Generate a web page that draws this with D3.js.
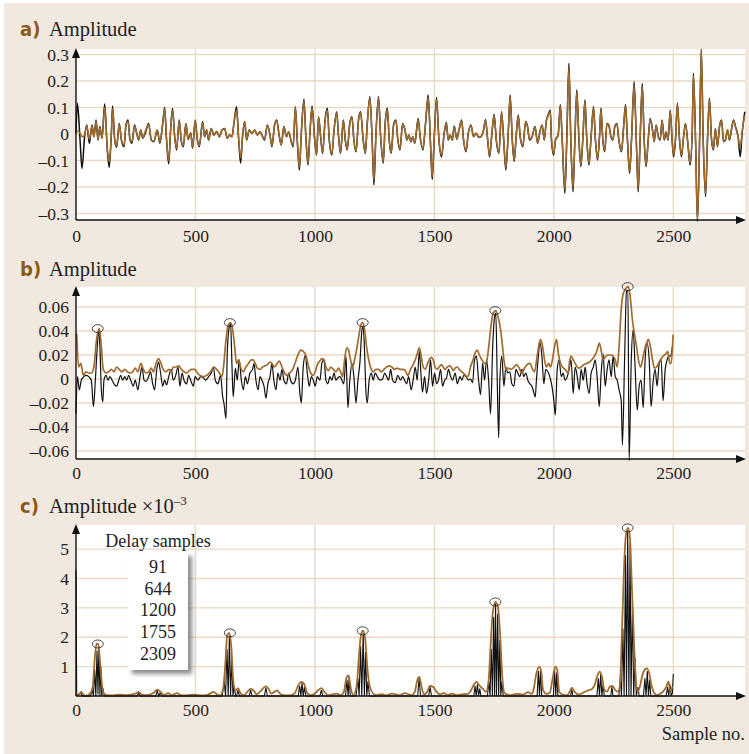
<!DOCTYPE html>
<html>
<head>
<meta charset="utf-8">
<script src="https://cdn.jsdelivr.net/npm/d3@7"></script>
<style>
  body { margin: 0; background: #fff; }
  svg { display: block; }
</style>
</head>
<body>
<script>
// sample axis ticks, shared by all three panels
const xTicks = [0, 500, 1000, 1500, 2000, 2500]
const aTicks = [-0.3, -0.2, -0.1, 0, 0.1, 0.2, 0.3]
const bTicks = [-0.06, -0.04, -0.02, 0, 0.02, 0.04, 0.06]
const cTicks = [1, 2, 3, 4, 5]

// picked peaks (legend of panel c)
const delaySamples = [91, 644, 1200, 1755, 2309]
const bPeakValues = [0.042, 0.047, 0.047, 0.057, 0.077]
const cPeakValues = [1.77, 2.15, 2.22, 3.2, 5.72]

// panel a: [sample, black signal, brown signal]
const aRows = [
  [0, 0.003, 0.003], [6, 0.116, 0.01], [17, -0.023, 0.004], [25, -0.13, -0.01], [36, -0.01, -0.005],
  [45, 0.034, 0.03], [56, -0.035, -0.02], [67, 0.034, 0.03], [75, -0.01, -0.01], [84, 0.053, 0.048],
  [92, -0.023, -0.02], [100, 0.028, 0.025], [109, -0.016, -0.015], [120, 0.113, 0.1], [131, -0.06, -0.055],
  [139, -0.126, -0.105], [148, 0.003, 0.003], [153, 0.106, 0.095], [162, -0.023, -0.02], [170, -0.05, -0.045],
  [181, 0.04, 0.036], [190, -0.023, -0.02], [201, -0.048, -0.042], [209, 0.034, 0.03], [218, 0.053, 0.047],
  [226, -0.023, -0.02], [234, -0.035, -0.03], [245, 0.034, 0.03], [254, 0.003, 0.003], [262, -0.023, -0.02],
  [271, 0.015, 0.015], [279, -0.016, -0.015], [290, 0.003, 0.01], [304, 0.04, 0.036], [315, -0.023, -0.02],
  [326, -0.029, -0.027], [340, 0.015, 0.015], [351, -0.035, -0.03], [363, 0.04, 0.04], [371, 0.1, 0.094],
  [379, -0.023, -0.02], [388, -0.113, -0.1], [396, 0.015, 0.015], [404, 0.096, 0.09], [413, -0.01, -0.01],
  [421, -0.06, -0.055], [432, 0.053, 0.05], [441, -0.029, -0.027], [449, -0.048, -0.044], [460, 0.04, 0.037],
  [469, -0.02, -0.018], [480, 0.005, 0.005], [488, -0.054, -0.05], [499, 0.053, 0.05], [508, -0.023, -0.02],
  [516, -0.048, -0.044], [530, 0.047, 0.043], [538, -0.01, -0.01], [547, 0.015, 0.015], [555, -0.023, -0.02],
  [566, 0.021, 0.02], [577, -0.004, -0.004], [589, 0.009, 0.01], [600, -0.01, -0.01], [611, 0.015, 0.015],
  [622, 0.021, 0.02], [633, -0.016, -0.015], [642, -0.004, -0.004], [653, -0.01, -0.01], [661, 0.04, 0.04],
  [672, 0.103, 0.09], [681, -0.023, -0.02], [689, -0.11, -0.09], [697, -0.01, -0.01], [706, 0.047, 0.045],
  [714, -0.023, -0.02], [725, 0.015, 0.015], [736, 0.003, 0.003], [748, 0.015, 0.015], [759, -0.004, -0.004],
  [770, 0.009, 0.009], [781, -0.01, -0.01], [789, -0.023, -0.02], [801, 0.034, 0.032], [812, -0.004, -0.004],
  [820, -0.048, -0.044], [831, 0.034, 0.032], [840, 0.053, 0.05], [851, -0.01, -0.01], [859, -0.042, -0.04],
  [870, 0.028, 0.026], [881, -0.01, -0.01], [890, 0.009, 0.009], [901, -0.029, -0.027], [909, -0.048, -0.044],
  [918, 0.103, 0.1], [926, -0.023, -0.02], [935, -0.136, -0.125], [943, 0.003, 0.003], [954, 0.131, 0.125],
  [962, -0.01, -0.01], [971, -0.117, -0.11], [979, 0.003, 0.003], [988, 0.106, 0.1], [999, -0.023, -0.02],
  [1007, -0.079, -0.075], [1015, 0.065, 0.062], [1024, -0.01, -0.01], [1032, -0.073, -0.07], [1043, 0.059, 0.056],
  [1052, 0.097, 0.09], [1060, -0.023, -0.02], [1071, -0.079, -0.075], [1080, 0.015, 0.015], [1091, 0.084, 0.08],
  [1099, -0.01, -0.01], [1107, -0.073, -0.07], [1119, 0.053, 0.05], [1127, -0.023, -0.02], [1135, -0.06, -0.057],
  [1146, 0.04, 0.038], [1155, 0.065, 0.062], [1163, -0.023, -0.02], [1172, -0.067, -0.064], [1183, 0.059, 0.056],
  [1191, 0.084, 0.08], [1202, -0.023, -0.02], [1211, -0.073, -0.07], [1219, 0.04, 0.038], [1230, 0.141, 0.135],
  [1239, -0.01, -0.01], [1247, -0.192, -0.175], [1255, -0.01, -0.01], [1266, 0.141, 0.135], [1275, -0.01, -0.01],
  [1286, -0.11, -0.105], [1294, 0.04, 0.038], [1303, 0.097, 0.092], [1311, -0.023, -0.02], [1319, -0.073, -0.07],
  [1330, 0.04, 0.038], [1339, 0.053, 0.05], [1347, -0.023, -0.02], [1356, -0.06, -0.057], [1367, 0.04, 0.038],
  [1377, 0.015, 0.015], [1385, -0.023, -0.02], [1393, -0.004, -0.004], [1402, -0.029, -0.027], [1410, -0.01, -0.01],
  [1418, -0.035, -0.033], [1432, 0.059, 0.055], [1441, -0.016, -0.015], [1452, -0.06, -0.056], [1463, 0.04, 0.038],
  [1474, 0.147, 0.138], [1483, -0.023, -0.02], [1491, -0.171, -0.16], [1499, -0.023, -0.02], [1509, 0.138, 0.13],
  [1519, -0.023, -0.02], [1530, -0.086, -0.08], [1541, 0.003, 0.003], [1550, 0.043, 0.04], [1558, -0.023, -0.02],
  [1566, -0.004, -0.004], [1575, -0.023, -0.02], [1583, 0.03, 0.028], [1594, -0.02, -0.018], [1603, 0.015, 0.015],
  [1614, 0.053, 0.05], [1622, -0.023, -0.02], [1632, -0.067, -0.063], [1642, 0.003, 0.003], [1653, 0.034, 0.032],
  [1664, -0.01, -0.01], [1675, 0.003, 0.003], [1686, -0.013, -0.012], [1695, -0.01, -0.01], [1706, 0.015, 0.015],
  [1714, 0.055, 0.052], [1723, -0.023, -0.02], [1731, -0.086, -0.08], [1742, 0.015, 0.015], [1750, 0.075, 0.07],
  [1759, -0.023, -0.02], [1770, -0.073, -0.07], [1781, 0.084, 0.08], [1790, -0.023, -0.02], [1799, -0.136, -0.128],
  [1809, 0.003, 0.003], [1817, 0.147, 0.14], [1826, -0.023, -0.02], [1834, -0.104, -0.1], [1842, -0.01, -0.01],
  [1851, 0.072, 0.068], [1859, -0.01, -0.01], [1870, -0.048, -0.045], [1882, 0.047, 0.045], [1890, 0.028, 0.026],
  [1898, -0.023, -0.02], [1909, -0.01, -0.01], [1921, 0.028, 0.026], [1932, -0.035, -0.033], [1943, 0.015, 0.015],
  [1951, 0.034, 0.032], [1960, -0.023, -0.02], [1968, 0.047, 0.045], [1976, 0.072, 0.068], [1985, 0.09, 0.085],
  [1990, -0.023, -0.02], [1999, -0.079, -0.074], [2007, -0.023, -0.02], [2018, -0.004, -0.004], [2027, 0.11, 0.104],
  [2035, -0.023, -0.02], [2046, -0.224, -0.21], [2054, -0.023, -0.02], [2063, 0.267, 0.25], [2071, -0.023, -0.02],
  [2080, -0.218, -0.205], [2088, -0.023, -0.02], [2096, 0.166, 0.158], [2105, -0.023, -0.02], [2113, -0.123, -0.117],
  [2121, -0.023, -0.02], [2130, 0.128, 0.122], [2138, -0.023, -0.02], [2147, -0.117, -0.11], [2155, -0.023, -0.02],
  [2166, 0.103, 0.098], [2174, -0.023, -0.02], [2183, -0.098, -0.093], [2191, -0.01, -0.01], [2197, 0.097, 0.092],
  [2205, -0.023, -0.02], [2213, -0.067, -0.063], [2222, 0.04, 0.038], [2230, 0.034, 0.032], [2239, -0.01, -0.01],
  [2247, -0.023, -0.02], [2255, 0.028, 0.026], [2264, 0.04, 0.038], [2272, -0.023, -0.02], [2283, -0.067, -0.063],
  [2292, 0.028, 0.026], [2300, 0.11, 0.104], [2308, -0.023, -0.02], [2317, -0.148, -0.14], [2325, -0.023, -0.02],
  [2336, 0.197, 0.185], [2345, -0.023, -0.02], [2353, -0.218, -0.205], [2361, -0.023, -0.02], [2370, 0.191, 0.18],
  [2378, -0.023, -0.02], [2386, -0.123, -0.117], [2395, -0.023, -0.02], [2403, 0.059, 0.056], [2411, 0.028, 0.026],
  [2420, -0.029, -0.027], [2428, 0.034, 0.032], [2437, -0.01, -0.01], [2445, -0.023, -0.02], [2453, 0.053, 0.05],
  [2462, -0.023, -0.02], [2470, 0.009, 0.009], [2478, -0.023, -0.02], [2487, 0.09, 0.085], [2495, -0.023, -0.02],
  [2501, -0.086, -0.08], [2509, -0.023, -0.02], [2517, 0.116, 0.11], [2526, -0.023, -0.02], [2534, -0.086, -0.08],
  [2543, -0.01, -0.01], [2551, 0.04, 0.038], [2562, -0.048, -0.045], [2570, -0.117, -0.11], [2579, 0.003, 0.003],
  [2584, 0.229, 0.22], [2593, -0.023, -0.02], [2601, -0.33, -0.325], [2610, -0.023, -0.02], [2617, 0.32, 0.318],
  [2625, -0.023, -0.02], [2635, -0.236, -0.225], [2643, -0.023, -0.02], [2651, 0.135, 0.128], [2660, -0.023, -0.02],
  [2668, -0.06, -0.057], [2676, 0.021, 0.02], [2685, -0.048, -0.045], [2693, 0.028, 0.026], [2702, 0.053, 0.05],
  [2710, -0.029, -0.027], [2718, -0.023, -0.02], [2727, 0.015, 0.015], [2735, -0.023, -0.02], [2743, 0.015, 0.015],
  [2752, 0.053, 0.05], [2760, 0.028, 0.026], [2771, -0.01, -0.01], [2780, -0.086, -0.05], [2788, 0.003, 0.01],
  [2799, 0.084, 0.07]
]

// panel b: [sample, value]
const bBlack = [
  [0, -0.029], [6, 0.002], [14, -0.009], [22, -0.001], [33, 0.002], [42, 0.003], [53, 0.002], [64, -0.001],
  [73, -0.023], [81, -0.001], [89, 0.027], [95, 0.041], [100, 0.027], [106, -0.009], [112, -0.019], [117, -0.001],
  [126, 0.003], [134, -0.001], [142, 0.002], [151, -0.001], [159, -0.004], [170, -0.006], [179, -0.001], [187, 0.003],
  [195, -0.001], [204, 0.002], [212, -0.001], [220, 0.003], [229, -0.001], [240, -0.006], [248, -0.001], [259, -0.009],
  [268, 0.002], [276, 0.01], [285, -0.001], [293, -0.002], [304, 0.002], [312, 0.006], [321, -0.004], [329, -0.009],
  [338, 0.008], [346, 0.014], [354, 0.005], [363, -0.006], [371, -0.001], [379, -0.005], [388, 0.002], [399, 0.008],
  [407, -0.001], [416, 0.002], [427, 0.01], [435, -0.006], [444, 0.005], [452, -0.001], [463, -0.004], [471, 0.003],
  [480, -0.001], [491, -0.006], [499, 0.002], [510, -0.001], [522, 0.002], [533, 0.001], [544, -0.001], [555, 0.002],
  [566, 0.005], [575, 0.01], [583, -0.001], [594, -0.004], [605, 0.003], [614, -0.015], [619, -0.02], [628, -0.033],
  [633, 0.021], [642, 0.044], [647, 0.046], [653, 0.01], [658, -0.015], [667, 0.009], [675, -0.001], [683, 0.016],
  [692, -0.001], [700, -0.009], [709, 0.002], [717, -0.004], [728, 0.005], [739, 0.008], [745, 0.013], [753, -0.001],
  [762, -0.009], [770, 0.002], [778, -0.001], [787, -0.006], [795, -0.016], [803, -0.004], [812, 0.002], [820, 0.013],
  [828, -0.001], [837, -0.009], [845, 0.005], [854, -0.001], [862, 0.008], [870, -0.001], [881, -0.004], [890, 0.005],
  [898, -0.001], [909, -0.004], [918, -0.001], [929, 0.01], [937, -0.012], [943, -0.02], [951, 0.01], [960, 0.02],
  [968, 0.005], [976, -0.006], [985, 0.002], [993, -0.001], [1001, -0.006], [1010, 0.002], [1021, -0.001], [1029, 0.013],
  [1038, 0.016], [1046, -0.001], [1054, -0.004], [1063, 0.002], [1071, -0.001], [1080, 0.005], [1088, -0.001], [1096, 0.001],
  [1105, 0.002], [1113, -0.001], [1121, -0.004], [1130, 0.019], [1138, -0.024], [1146, -0.001], [1155, 0.013], [1163, 0.002],
  [1172, -0.02], [1180, -0.001], [1188, 0.013], [1197, 0.041], [1202, 0.044], [1208, 0.021], [1213, -0.009], [1219, -0.02],
  [1227, -0.001], [1236, 0.005], [1244, -0.001], [1252, 0.005], [1261, 0.002], [1272, -0.001], [1283, 0], [1292, 0.005],
  [1300, 0.002], [1308, -0.001], [1317, 0.008], [1325, -0.001], [1336, -0.003], [1347, 0.003], [1358, -0.001], [1367, 0.002],
  [1375, -0.001], [1384, -0.004], [1392, 0.002], [1403, -0.009], [1411, -0.001], [1420, 0.01], [1428, -0.001], [1437, 0.023],
  [1442, 0.01], [1450, -0.011], [1459, 0.002], [1467, -0.012], [1476, -0.001], [1484, 0.016], [1492, -0.006], [1501, 0.005],
  [1509, -0.004], [1517, -0.001], [1526, 0.008], [1534, -0.006], [1543, -0.001], [1551, 0.001], [1559, 0.008], [1568, 0.002],
  [1576, -0.001], [1587, 0.005], [1596, -0.004], [1607, 0.002], [1615, -0.001], [1623, 0.003], [1632, 0.002], [1643, -0.001],
  [1651, 0], [1660, -0.003], [1668, 0.016], [1676, 0.019], [1685, -0.001], [1693, -0.013], [1702, 0.013], [1710, -0.001],
  [1718, 0.016], [1727, -0.001], [1735, -0.029], [1744, 0.027], [1752, 0.052], [1757, 0.055], [1763, -0.001], [1769, -0.049],
  [1774, -0.001], [1782, 0.019], [1791, -0.006], [1799, 0.01], [1807, 0.005], [1816, 0.006], [1824, -0.004], [1833, -0.006],
  [1841, 0.008], [1849, 0.005], [1858, 0.002], [1866, 0.008], [1874, 0.002], [1883, 0.005], [1891, -0.001], [1900, -0.004],
  [1908, -0.006], [1913, -0.009], [1922, -0.015], [1927, -0.001], [1936, 0.021], [1941, 0.031], [1950, 0.019], [1958, -0.004],
  [1966, 0.008], [1975, 0.006], [1983, 0.002], [1992, -0.006], [2000, -0.018], [2006, -0.03], [2014, 0.008], [2022, 0.016],
  [2031, 0.002], [2039, 0.005], [2047, -0.001], [2056, 0.002], [2064, 0.008], [2072, 0.016], [2081, -0.012], [2089, 0.01],
  [2098, 0.002], [2106, -0.009], [2114, 0.008], [2123, -0.001], [2131, 0.01], [2139, -0.004], [2148, -0.012], [2156, 0.005],
  [2165, 0.01], [2173, 0.016], [2181, 0.002], [2190, -0.023], [2198, 0.005], [2206, 0.021], [2215, -0.006], [2223, 0.008],
  [2231, 0.016], [2240, 0.002], [2248, 0.019], [2257, 0.002], [2265, -0.001], [2273, -0.009], [2282, -0.018], [2287, -0.055],
  [2296, 0.016], [2304, 0.073], [2310, 0.074], [2315, -0.068], [2324, 0.016], [2332, 0.041], [2340, 0.01], [2349, -0.026],
  [2357, -0.006], [2365, -0.001], [2374, -0.024], [2382, 0.016], [2390, 0.03], [2399, 0.016], [2407, -0.023], [2416, -0.001],
  [2424, 0.008], [2432, -0.006], [2441, 0.013], [2449, 0.016], [2457, -0.018], [2466, 0.008], [2474, 0.016], [2480, 0.019],
  [2488, 0.019], [2496, 0.027]
]

const bBrown = [
  [3, 0.038], [11, 0.01], [20, 0.013], [31, 0.003], [42, 0.006], [53, 0.005], [64, 0.005], [75, 0.01], [86, 0.033],
  [98, 0.042], [106, 0.027], [114, 0.008], [126, 0.005], [137, 0.006], [148, 0.008], [159, 0.006], [170, 0.01], [181, 0.008],
  [192, 0.006], [204, 0.008], [215, 0.006], [226, 0.005], [237, 0.006], [248, 0.009], [259, 0.006], [271, 0.013], [282, 0.008],
  [293, 0.005], [304, 0.006], [315, 0.009], [324, 0.006], [335, 0.013], [346, 0.017], [354, 0.014], [365, 0.008], [377, 0.006],
  [388, 0.008], [399, 0.006], [407, 0.01], [418, 0.01], [430, 0.011], [441, 0.008], [452, 0.006], [463, 0.005], [474, 0.007],
  [485, 0.008], [497, 0.008], [508, 0.005], [519, 0.003], [533, 0.002], [547, 0.003], [558, 0.005], [569, 0.008], [577, 0.01],
  [589, 0.008], [600, 0.005], [611, 0.002], [619, 0.013], [628, 0.033], [636, 0.044], [647, 0.047], [656, 0.041], [664, 0.027],
  [672, 0.013], [681, 0.016], [689, 0.01], [700, 0.006], [711, 0.01], [722, 0.013], [734, 0.016], [742, 0.016], [750, 0.013],
  [759, 0.009], [770, 0.008], [781, 0.01], [792, 0.011], [801, 0.012], [812, 0.014], [820, 0.013], [831, 0.01], [842, 0.013],
  [851, 0.015], [862, 0.01], [873, 0.005], [884, 0.003], [895, 0.005], [907, 0.008], [918, 0.014], [929, 0.02], [940, 0.024],
  [951, 0.023], [962, 0.02], [974, 0.01], [982, 0.005], [993, 0.003], [1001, 0.006], [1010, 0.012], [1021, 0.015], [1029, 0.017],
  [1038, 0.016], [1046, 0.01], [1057, 0.007], [1066, 0.01], [1077, 0.008], [1088, 0.006], [1099, 0.009], [1107, 0.006],
  [1116, 0.002], [1124, 0.016], [1133, 0.026], [1141, 0.024], [1149, 0.016], [1158, 0.01], [1166, 0.016], [1174, 0.024],
  [1183, 0.035], [1191, 0.044], [1199, 0.047], [1208, 0.041], [1216, 0.027], [1225, 0.016], [1236, 0.008], [1244, 0.006],
  [1255, 0.008], [1266, 0.008], [1278, 0.006], [1289, 0.008], [1300, 0.01], [1311, 0.011], [1322, 0.01], [1333, 0.008],
  [1344, 0.009], [1356, 0.008], [1367, 0.008], [1378, 0.007], [1389, 0.003], [1400, 0.008], [1411, 0.012], [1420, 0.016],
  [1428, 0.021], [1437, 0.026], [1445, 0.019], [1453, 0.01], [1462, 0.008], [1470, 0.012], [1478, 0.016], [1487, 0.018],
  [1495, 0.016], [1503, 0.01], [1512, 0.008], [1520, 0.01], [1529, 0.012], [1537, 0.01], [1545, 0.008], [1554, 0.01],
  [1562, 0.011], [1570, 0.01], [1579, 0.007], [1587, 0.009], [1596, 0.01], [1604, 0.008], [1615, 0.006], [1626, 0.004],
  [1635, 0.002], [1643, 0.003], [1651, 0.01], [1662, 0.016], [1671, 0.022], [1680, 0.024], [1688, 0.02], [1699, 0.016],
  [1710, 0.013], [1718, 0.014], [1727, 0.026], [1735, 0.041], [1746, 0.055], [1757, 0.057], [1766, 0.052], [1774, 0.045],
  [1782, 0.033], [1791, 0.016], [1799, 0.008], [1810, 0.009], [1821, 0.008], [1833, 0.01], [1844, 0.012], [1855, 0.009],
  [1866, 0.005], [1877, 0.009], [1888, 0.012], [1900, 0.013], [1911, 0.008], [1919, 0.006], [1930, 0.019], [1939, 0.03],
  [1944, 0.033], [1953, 0.027], [1961, 0.016], [1969, 0.01], [1978, 0.013], [1986, 0.01], [1994, 0.016], [2003, 0.027],
  [2011, 0.033], [2019, 0.021], [2028, 0.013], [2036, 0.01], [2047, 0.008], [2059, 0.005], [2067, 0.016], [2072, 0.019],
  [2081, 0.016], [2092, 0.012], [2103, 0.009], [2114, 0.01], [2125, 0.012], [2137, 0.013], [2148, 0.014], [2159, 0.016],
  [2170, 0.019], [2181, 0.024], [2190, 0.03], [2198, 0.024], [2206, 0.016], [2218, 0.019], [2229, 0.02], [2240, 0.02],
  [2248, 0.019], [2257, 0.016], [2265, 0.01], [2273, 0.027], [2282, 0.058], [2290, 0.071], [2304, 0.076], [2312, 0.077],
  [2321, 0.066], [2329, 0.049], [2337, 0.038], [2346, 0.027], [2354, 0.016], [2363, 0.01], [2371, 0.016], [2379, 0.024],
  [2388, 0.03], [2396, 0.033], [2404, 0.027], [2413, 0.016], [2421, 0.009], [2430, 0.01], [2438, 0.013], [2446, 0.016],
  [2457, 0.019], [2469, 0.021], [2477, 0.023], [2485, 0.013], [2491, 0.013], [2499, 0.037]
]

// panel c (values x 10^-3)
const cBlack = [
  [0, 4.3], [3, 0.02], [20, 0.1], [26, 0], [60, 0], [68, 0.2], [73, 0], [78, 0.9], [83, 0], [88, 1.55], [92, 0.05],
  [96, 1.7], [100, 0], [104, 1.0], [108, 0], [113, 0.25], [118, 0], [255, 0], [262, 0.1], [268, 0], [334, 0], [340, 0.18],
  [346, 0], [352, 0.1], [358, 0], [612, 0], [620, 0.5], [626, 0], [632, 1.6], [637, 0], [642, 2.05], [647, 0], [652, 1.3],
  [657, 0], [662, 0.35], [668, 0], [672, 0], [678, 0.2], [684, 0], [725, 0], [731, 0.2], [737, 0], [788, 0], [795, 0.28],
  [801, 0], [930, 0], [936, 0.35], [941, 0], [946, 0.45], [951, 0], [956, 0.3], [962, 0], [1021, 0], [1027, 0.2], [1033, 0],
  [1128, 0], [1134, 0.55], [1139, 0], [1143, 0.65], [1148, 0], [1172, 0], [1180, 0.6], [1185, 0], [1191, 1.7], [1196, 0],
  [1202, 2.15], [1207, 0], [1212, 1.5], [1217, 0], [1222, 0.5], [1228, 0], [1430, 0], [1436, 0.6], [1442, 0], [1476, 0],
  [1482, 0.3], [1488, 0], [1665, 0], [1670, 0.35], [1675, 0], [1680, 0.4], [1685, 0], [1690, 0.25], [1695, 0], [1722, 0],
  [1728, 0.5], [1733, 0], [1738, 1.6], [1743, 0], [1748, 2.7], [1752, 0], [1756, 3.15], [1760, 0], [1765, 2.8], [1769, 0],
  [1774, 1.9], [1778, 0], [1783, 0.5], [1788, 0], [1930, 0], [1935, 0.85], [1940, 0], [1944, 0.9], [1949, 0], [1998, 0],
  [2003, 0.9], [2008, 0], [2012, 0.8], [2017, 0], [2070, 0], [2075, 0.22], [2080, 0], [2180, 0], [2186, 0.6], [2191, 0],
  [2196, 0.75], [2201, 0], [2206, 0.4], [2211, 0], [2238, 0], [2243, 0.3], [2248, 0], [2272, 0], [2278, 0.6], [2283, 0],
  [2289, 2.3], [2294, 0], [2300, 4.8], [2304, 0], [2309, 5.65], [2314, 0], [2319, 5.2], [2323, 0], [2329, 3.2], [2334, 0],
  [2340, 1.3], [2345, 0], [2352, 0.3], [2357, 0], [2375, 0], [2381, 0.6], [2386, 0], [2391, 0.85], [2396, 0], [2401, 0.55],
  [2406, 0], [2470, 0], [2476, 0.3], [2481, 0], [2486, 0.4], [2491, 0], [2496, 0.1], [2500, 0.75]
]

const cBrown = [
  [0, 0.08], [8, 0.02], [22, 0.14], [33, 0.03], [45, 0.01], [59, 0.08], [70, 0.31], [78, 1.22], [86, 1.78], [93, 1.76],
  [100, 1.22], [109, 0.36], [117, 0.08], [128, 0.03], [156, 0.02], [184, 0.05], [212, 0.03], [240, 0.06], [254, 0.1],
  [262, 0.14], [273, 0.06], [296, 0.03], [324, 0.1], [340, 0.22], [354, 0.14], [368, 0.03], [386, 0.1], [400, 0.03],
  [424, 0.1], [438, 0.03], [463, 0.02], [491, 0.05], [519, 0.02], [547, 0.03], [561, 0.08], [575, 0.14], [589, 0.06],
  [603, 0.02], [616, 0.25], [625, 1.1], [633, 2.07], [642, 2.15], [650, 1.67], [658, 0.53], [667, 0.19], [678, 0.27],
  [689, 0.08], [703, 0.03], [717, 0.14], [731, 0.24], [745, 0.17], [756, 0.06], [770, 0.14], [784, 0.27], [795, 0.33],
  [806, 0.25], [817, 0.08], [831, 0.14], [842, 0.19], [854, 0.08], [868, 0.03], [895, 0.02], [916, 0.1], [930, 0.36],
  [943, 0.48], [954, 0.42], [968, 0.1], [982, 0.03], [999, 0.08], [1013, 0.19], [1027, 0.27], [1040, 0.14], [1054, 0.03],
  [1077, 0.06], [1091, 0.08], [1107, 0.03], [1121, 0.14], [1133, 0.65], [1141, 0.7], [1149, 0.31], [1160, 0.03],
  [1174, 0.31], [1185, 1.44], [1194, 2.13], [1202, 2.22], [1211, 1.9], [1219, 0.99], [1230, 0.31], [1244, 0.08],
  [1258, 0.03], [1279, 0.06], [1300, 0.02], [1321, 0.08], [1335, 0.06], [1356, 0.03], [1377, 0.1], [1391, 0.06],
  [1404, 0.03], [1418, 0.14], [1428, 0.53], [1437, 0.65], [1445, 0.36], [1456, 0.06], [1470, 0.14], [1481, 0.34],
  [1495, 0.31], [1509, 0.14], [1523, 0.06], [1540, 0.1], [1556, 0.03], [1573, 0.08], [1593, 0.03], [1621, 0.06],
  [1643, 0.08], [1657, 0.25], [1668, 0.42], [1676, 0.48], [1688, 0.36], [1702, 0.25], [1716, 0.14], [1727, 0.53],
  [1735, 1.67], [1744, 2.81], [1755, 3.2], [1766, 3.03], [1774, 2.24], [1785, 0.55], [1794, 0.09], [1816, 0.03],
  [1844, 0.07], [1872, 0.05], [1893, 0.13], [1906, 0.07], [1913, 0.15], [1927, 0.77], [1939, 1.0], [1947, 0.83],
  [1955, 0.2], [1969, 0.07], [1983, 0.11], [1994, 0.55], [2006, 1.0], [2014, 0.89], [2022, 0.15], [2036, 0.05],
  [2053, 0.02], [2067, 0.15], [2075, 0.28], [2086, 0.15], [2103, 0.05], [2123, 0.11], [2139, 0.18], [2158, 0.23],
  [2171, 0.38], [2181, 0.66], [2192, 0.83], [2201, 0.66], [2212, 0.2], [2223, 0.15], [2234, 0.32], [2245, 0.34],
  [2257, 0.2], [2268, 0.15], [2276, 0.32], [2284, 1.91], [2293, 4.18], [2301, 5.43], [2310, 5.72], [2318, 5.43],
  [2326, 3.84], [2335, 1.91], [2343, 0.55], [2351, 0.15], [2360, 0.32], [2371, 0.72], [2382, 0.91], [2390, 0.94],
  [2399, 0.77], [2410, 0.32], [2421, 0.09], [2432, 0.03], [2443, 0.07], [2457, 0.15], [2471, 0.32], [2480, 0.49],
  [2488, 0.15], [2496, 0.32]
]

const W = 749, H = 754
const beige = '#f1e9df'
const grid = '#ead9c3'
const brown = '#a06b2e'
const serif = "'Liberation Serif', 'DejaVu Serif', serif"
const labelFont = "'Liberation Sans Narrow', 'DejaVu Sans Condensed', 'Roboto', sans-serif"

const svg = d3.select('body').append('svg')
  .attr('width', W)
  .attr('height', H)

const defs = svg.append('defs')
defs.append('filter').attr('id', 'shadow')
  .attr('x', '-20%').attr('y', '-20%').attr('width', '160%').attr('height', '160%')
  .append('feDropShadow')
  .attr('dx', 4).attr('dy', 4).attr('stdDeviation', 2)
  .attr('flood-color', '#666').attr('flood-opacity', 0.75)

svg.append('rect')
  .attr('x', 4).attr('y', 3)
  .attr('width', W - 4).attr('height', H - 3)
  .attr('fill', beige)

const x = d3.scaleLinear().domain([0, 2800]).range([76, 745])

function drawPanel(p) {
  const y = d3.scaleLinear().domain(p.domain).range([p.bottom, p.top])
  const g = svg.append('g')

  g.append('rect')
    .attr('x', x(0)).attr('y', p.top)
    .attr('width', x(2800) - x(0)).attr('height', p.bottom - p.top)
    .attr('fill', '#fff')

  g.selectAll('.hgrid').data(p.ticks).join('line')
    .attr('x1', x(0)).attr('x2', x(2800))
    .attr('y1', d => y(d)).attr('y2', d => y(d))
    .attr('stroke', grid).attr('stroke-width', 1.4)

  g.selectAll('.vgrid').data(xTicks.slice(1)).join('line')
    .attr('x1', d => x(d)).attr('x2', d => x(d))
    .attr('y1', p.top).attr('y2', p.bottom)
    .attr('stroke', grid).attr('stroke-width', 1.4)

  // tick labels
  const yAxis = g.append('g')
    .attr('transform', `translate(${x(0)},0)`)
    .call(d3.axisLeft(y).tickValues(p.labels).tickSize(0).tickPadding(7).tickFormat(p.format))
  yAxis.select('.domain').remove()
  yAxis.selectAll('text').attr('font-family', serif).attr('font-size', 17.5).attr('fill', '#222')

  const xAxis = g.append('g')
    .attr('transform', `translate(0,${p.bottom})`)
    .call(d3.axisBottom(x).tickValues(xTicks).tickSize(0).tickPadding(p.xPad).tickFormat(d3.format('d')))
  xAxis.select('.domain').remove()
  xAxis.selectAll('text').attr('font-family', serif).attr('font-size', 17.5).attr('fill', '#222')

  p.draw(g, y)

  // axes with arrow heads
  g.append('line')
    .attr('x1', x(0)).attr('x2', x(0))
    .attr('y1', p.bottom).attr('y2', p.top + 6)
    .attr('stroke', '#111').attr('stroke-width', 1.4)
  g.append('line')
    .attr('x1', x(0)).attr('x2', x(2800) - 6)
    .attr('y1', p.bottom).attr('y2', p.bottom)
    .attr('stroke', '#111').attr('stroke-width', 1.4)
  g.append('path')
    .attr('d', `M${x(0)},${p.top - 1}l-4,10h8z`)
    .attr('fill', '#111')
  g.append('path')
    .attr('d', `M${x(2800) + 1},${p.bottom}l-10,-4v8z`)
    .attr('fill', '#111')

  // panel heading
  const head = g.append('g')
  head.append('text')
    .attr('x', 20).attr('y', p.titleY)
    .attr('font-family', labelFont).attr('font-weight', 'bold').attr('font-size', 20)
    .attr('fill', '#8b5a1a')
    .text(p.letter)
  const t = head.append('text')
    .attr('x', 49).attr('y', p.titleY)
    .attr('font-family', serif).attr('font-size', 20.5).attr('fill', '#222')
  t.append('tspan').text('Amplitude')
  if (p.exponent) {
    t.append('tspan').attr('dx', 5).text('×10')
    t.append('tspan').attr('dy', -8).attr('font-size', 13).text(p.exponent)
  }
  return y
}

const signFormat = f => d => d === 0 ? '0' : (d < 0 ? '–' : '') + f(Math.abs(d))

function peakMarks(g, y, values) {
  g.selectAll('.peak').data(delaySamples).join('ellipse')
    .attr('cx', d => x(d))
    .attr('cy', (d, i) => y(values[i]))
    .attr('rx', 5.5).attr('ry', 4)
    .attr('fill', 'none').attr('stroke', '#333').attr('stroke-width', 0.9)
}

// panel a
drawPanel({
  top: 49, bottom: 220, domain: [-0.3245, 0.3208],
  ticks: aTicks, labels: aTicks, format: signFormat(d3.format('.1f')),
  xPad: 10, titleY: 36, letter: 'a)',
  draw(g, y) {
    const line = col => d3.line().x(d => x(d[0])).y(d => y(d[col])).curve(d3.curveMonotoneX)
    g.append('path').datum(aRows).attr('d', line(1))
      .attr('fill', 'none').attr('stroke', '#111').attr('stroke-width', 1.5)
    g.append('path').datum(aRows).attr('d', line(2))
      .attr('fill', 'none').attr('stroke', brown).attr('stroke-width', 1.5)
  }
})

// panel b
drawPanel({
  top: 287, bottom: 459, domain: [-0.0667, 0.0767],
  ticks: bTicks, labels: bTicks, format: signFormat(d3.format('.2f')),
  xPad: 8, titleY: 276, letter: 'b)',
  draw(g, y) {
    const line = d3.line().x(d => x(d[0])).y(d => y(d[1])).curve(d3.curveMonotoneX)
    g.append('path').datum(bBlack).attr('d', line)
      .attr('fill', 'none').attr('stroke', '#111').attr('stroke-width', 1.2)
    g.append('path').datum(bBrown).attr('d', line)
      .attr('fill', 'none').attr('stroke', brown).attr('stroke-width', 1.7)
    peakMarks(g, y, bPeakValues)
  }
})

// panel c
drawPanel({
  top: 525, bottom: 696, domain: [0, 5.82],
  ticks: cTicks, labels: cTicks, format: d3.format('d'),
  xPad: 8, titleY: 513, letter: 'c)', exponent: '–3',
  draw(g, y) {
    // legend box with the delay samples
    g.append('text')
      .attr('x', 158).attr('y', 547)
      .attr('text-anchor', 'middle')
      .attr('font-family', serif).attr('font-size', 18).attr('fill', '#222')
      .text('Delay samples')
    g.append('rect')
      .attr('x', 128).attr('y', 552).attr('width', 60).attr('height', 118)
      .attr('fill', '#fff').attr('filter', 'url(#shadow)')
    g.selectAll('.delay').data(delaySamples).join('text')
      .attr('x', 158).attr('y', (d, i) => 573 + i * 21.7)
      .attr('text-anchor', 'middle')
      .attr('font-family', serif).attr('font-size', 18).attr('fill', '#222')
      .text(d => d)

    const spikes = d3.line().x(d => x(d[0])).y(d => y(d[1]))
    const env = d3.line().x(d => x(d[0])).y(d => y(d[1])).curve(d3.curveMonotoneX)
    g.append('path').datum(cBlack).attr('d', spikes)
      .attr('fill', 'none').attr('stroke', '#111').attr('stroke-width', 1.1)
    g.append('path').datum(cBrown).attr('d', env)
      .attr('fill', 'none').attr('stroke', brown).attr('stroke-width', 1.8)
    peakMarks(g, y, cPeakValues)

    g.append('text')
      .attr('x', 745).attr('y', 740)
      .attr('text-anchor', 'end')
      .attr('font-family', serif).attr('font-size', 18.5).attr('fill', '#222')
      .text('Sample no.')
  }
})
</script>
</body>
</html>
